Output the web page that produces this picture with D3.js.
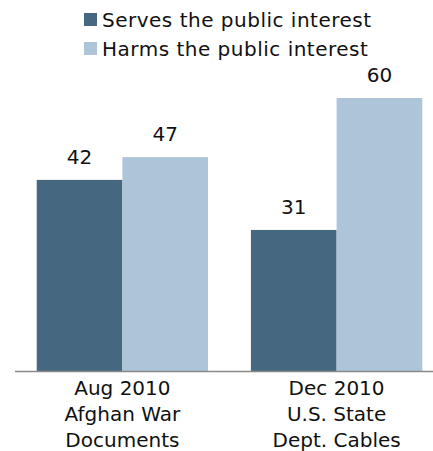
<!DOCTYPE html>
<html>
<head>
<meta charset="utf-8">
<script src="https://cdn.jsdelivr.net/npm/d3@7"></script>
<style>
  body { margin: 0; background: #fff; }
  text { font-family: "DejaVu Sans", Verdana, sans-serif; fill: #111; }
</style>
</head>
<body>
<div id="chart"></div>
<script>
// data
var categories = ["Aug 2010", "Dec 2010"];
var categoryLines = [
    ["Aug 2010", "Afghan War", "Documents"],
    ["Dec 2010", "U.S. State", "Dept. Cables"]
];
var seriesNames = ["Serves the public interest", "Harms the public interest"];
var serves = [42, 31];
var harms = [47, 60];
var colors = ["#45677f", "#adc4d9"];

var svgWidth = 433;
var svgHeight = 451;

var svg = d3.select("#chart")
    .append("svg")
    .attr("width", svgWidth)
    .attr("height", svgHeight);

// rows for the grouped bars
var rows = categories.map(function(c, i) {
    return { cat: c, values: [serves[i], harms[i]] };
});

// scales
var x0 = d3.scaleBand()
    .domain(categories)
    .range([26, 433])
    .paddingInner(0.2)
    .paddingOuter(0.05);

var x1 = d3.scaleBand()
    .domain(seriesNames)
    .range([0, x0.bandwidth()])
    .padding(0);

var y = d3.scaleLinear()
    .domain([0, 60])
    .range([371, 98]);

// bars
var groups = svg.selectAll("g.group")
    .data(rows)
    .enter()
    .append("g")
    .attr("class", "group")
    .attr("transform", d => `translate(${x0(d.cat)},0)`);

groups.selectAll("rect")
    .data(d => d.values.map((v, i) => ({ key: seriesNames[i], value: v, i: i })))
    .enter()
    .append("rect")
    .attr("x", d => x1(d.key))
    .attr("y", d => y(d.value))
    .attr("width", x1.bandwidth())
    .attr("height", d => y(0) - y(d.value))
    .attr("fill", d => colors[d.i]);

// value labels
groups.selectAll("text.val")
    .data(d => d.values.map((v, i) => ({ key: seriesNames[i], value: v })))
    .enter()
    .append("text")
    .attr("class", "val")
    .attr("x", d => x1(d.key) + x1.bandwidth() / 2)
    .attr("y", d => y(d.value) - 16)
    .attr("text-anchor", "middle")
    .attr("font-size", "20px")
    .text(d => d.value);

// baseline
svg.append("line")
    .attr("x1", 15)
    .attr("x2", 433)
    .attr("y1", y(0) + 0.5)
    .attr("y2", y(0) + 0.5)
    .attr("stroke", "#8a8a8a")
    .attr("stroke-width", 1.5);

// category labels
var catLabels = svg.selectAll("text.cat")
    .data(categories)
    .enter()
    .append("text")
    .attr("class", "cat")
    .attr("text-anchor", "middle")
    .attr("font-size", "20px");

catLabels.selectAll("tspan")
    .data((d, i) => categoryLines[i].map(t => ({ t: t, cat: d })))
    .enter()
    .append("tspan")
    .attr("x", d => x0(d.cat) + x0.bandwidth() / 2)
    .attr("y", (d, j) => 395 + j * 26)
    .text(d => d.t);

// legend
var legend = svg.selectAll("g.legend")
    .data(seriesNames)
    .enter()
    .append("g")
    .attr("class", "legend")
    .attr("transform", (d, i) => `translate(84,${13 + i * 29})`);

legend.append("rect")
    .attr("width", 13)
    .attr("height", 13)
    .attr("fill", (d, i) => colors[i]);

legend.append("text")
    .attr("x", 18)
    .attr("y", 14)
    .attr("font-size", "20px")
    .attr("letter-spacing", "0.5px")
    .text(d => d);
</script>
</body>
</html>
